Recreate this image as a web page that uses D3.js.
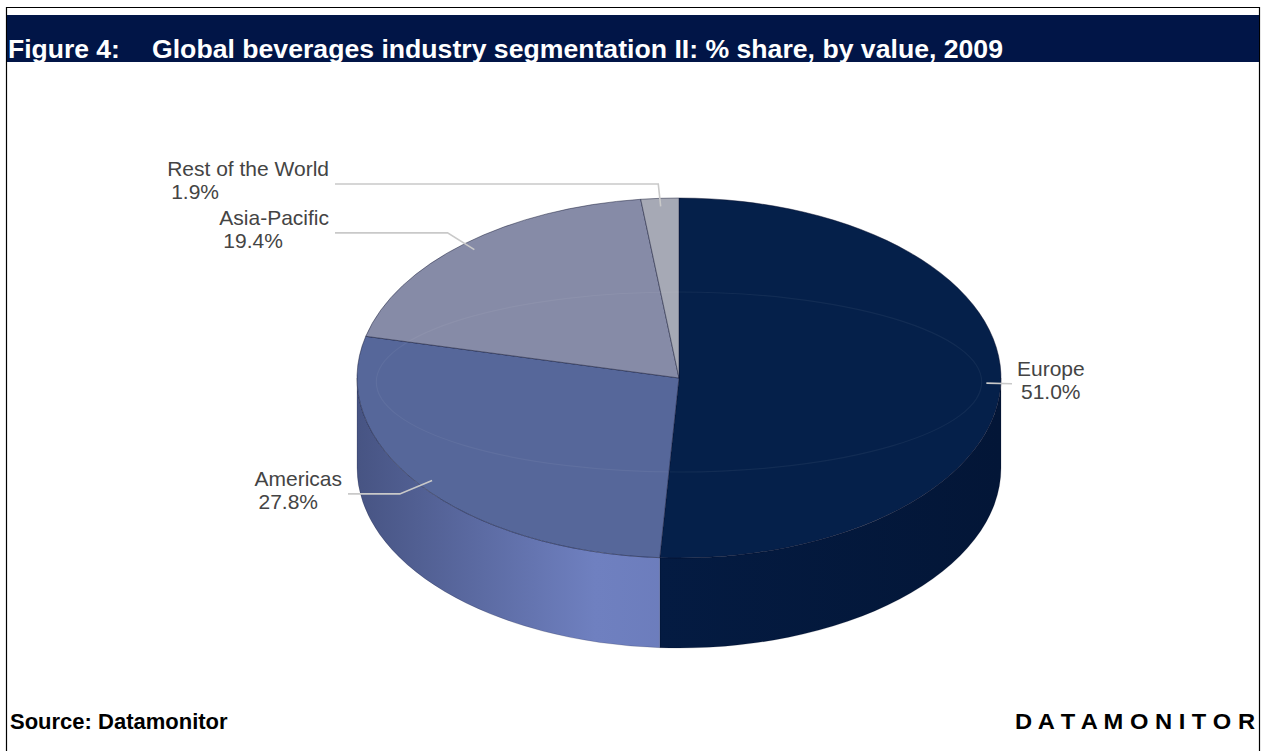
<!DOCTYPE html>
<html>
<head>
<meta charset="utf-8">
<script src="https://cdn.jsdelivr.net/npm/d3@7/dist/d3.min.js"></script>
<style>
  html, body { margin: 0; padding: 0; background: #fff; }
  svg { display: block; }
  text { font-family: "Liberation Sans", Arial, sans-serif; }
</style>
</head>
<body>
<svg id="chart" width="1264" height="751"></svg>
<script>
// Segment data (% share of global beverages value, 2009)
const categories = ["Europe", "Americas", "Asia-Pacific", "Rest of the World"];
const shares = [51.0, 27.8, 19.4, 1.9];
const shareLabels = ["51.0%", "27.8%", "19.4%", "1.9%"];

// Palette: top faces and wall gradient stops for each segment
const topColors = ["#05204a", "#56679a", "#868ba7", "#a6a9b5"];
const wallStops = [
  ["#04204a", "#041c44", "#031637"],
  ["#475483", "#6f80c0", "#5f6eab"],
  ["#6e7392", "#868ba7", "#767b98"],
  ["#8d909c", "#a6a9b5", "#9497a3"]
];

const titleLead = "Figure 4:";
const titleText = "Global beverages industry segmentation II: % share, by value, 2009";
const sourceText = "Source: Datamonitor";
const brandText = "D A T A M O N I T O R";

const svg = d3.select("#chart");
const W = 1264, H = 751;

// Frame and header band
svg.append("line").attr("x1", 6.5).attr("y1", 7.5).attr("x2", 1259.5).attr("y2", 7.5)
  .attr("stroke", "#000").attr("stroke-width", 1.2);
svg.append("line").attr("x1", 6.5).attr("y1", 7).attr("x2", 6.5).attr("y2", H)
  .attr("stroke", "#000").attr("stroke-width", 1.2);
svg.append("line").attr("x1", 1259.5).attr("y1", 7).attr("x2", 1259.5).attr("y2", H)
  .attr("stroke", "#000").attr("stroke-width", 1.2);
svg.append("rect").attr("x", 7).attr("y", 15).attr("width", 1252).attr("height", 47)
  .attr("fill", "#011547");

svg.append("text").attr("x", 8).attr("y", 58)
  .attr("font-size", 26.5).attr("font-weight", "bold").attr("fill", "#fff")
  .text(titleLead);
svg.append("text").attr("x", 152).attr("y", 58)
  .attr("font-size", 26.5).attr("font-weight", "bold").attr("fill", "#fff")
  .attr("textLength", 851).attr("lengthAdjust", "spacingAndGlyphs")
  .text(titleText);

svg.append("text").attr("x", 10).attr("y", 729)
  .attr("font-size", 22).attr("font-weight", "bold").attr("fill", "#000")
  .text(sourceText);
svg.append("text").attr("x", 1015).attr("y", 729)
  .attr("font-size", 22).attr("font-weight", "bold").attr("fill", "#000")
  .attr("textLength", 240).attr("lengthAdjust", "spacingAndGlyphs")
  .text(brandText);

// 3D pie geometry
const cx = 679, cy = 378, rx = 322, ry = 180, depth = 90;
const pt = (a, k = 1) => [cx + rx * k * Math.sin(a), cy - ry * k * Math.cos(a)];

const data = categories.map((c, i) => ({ name: c, share: shares[i], label: shareLabels[i], i }));
const arcs = d3.pie().sort(null).value(d => d.share).startAngle(0).endAngle(2 * Math.PI)(data);

const defs = svg.append("defs");
arcs.forEach(d => {
  const g = defs.append("linearGradient").attr("id", "wall" + d.data.i)
    .attr("gradientUnits", "userSpaceOnUse")
    .attr("x1", cx - rx).attr("y1", 0).attr("x2", cx + rx).attr("y2", 0);
  const stops = wallStops[d.data.i];
  // darker at the left edge, lit in front-left, falling off to the right
  g.append("stop").attr("offset", 0).attr("stop-color", stops[0]);
  g.append("stop").attr("offset", 0.37).attr("stop-color", stops[1]);
  g.append("stop").attr("offset", 1).attr("stop-color", stops[2]);
});

const gPie = svg.append("g");

// Outer walls: only the front half of the rim (angles between 90° and 270°) is visible
arcs.forEach(d => {
  const s = Math.max(d.startAngle, Math.PI / 2);
  const e = Math.min(d.endAngle, 3 * Math.PI / 2);
  if (s >= e) return;
  const p0 = pt(s), p1 = pt(e);
  const large = (e - s) > Math.PI ? 1 : 0;
  const path = `M${p0[0]},${p0[1]} A${rx},${ry} 0 ${large} 1 ${p1[0]},${p1[1]}` +
    ` L${p1[0]},${p1[1] + depth} A${rx},${ry} 0 ${large} 0 ${p0[0]},${p0[1] + depth} Z`;
  gPie.append("path").attr("d", path)
    .attr("fill", `url(#wall${d.data.i})`)
    .attr("stroke", "rgba(0,0,20,0.2)").attr("stroke-width", 0.8);
});

// Top faces
arcs.forEach(d => {
  const p0 = pt(d.startAngle), p1 = pt(d.endAngle);
  const large = (d.endAngle - d.startAngle) > Math.PI ? 1 : 0;
  const path = `M${cx},${cy} L${p0[0]},${p0[1]} A${rx},${ry} 0 ${large} 1 ${p1[0]},${p1[1]} Z`;
  gPie.append("path").attr("d", path)
    .attr("fill", topColors[d.data.i])
    .attr("stroke", "rgba(10,15,45,0.45)").attr("stroke-width", 1)
    .attr("stroke-linejoin", "round");
});

// Faint sheen ring on the top surface
gPie.append("ellipse").attr("cx", cx).attr("cy", cy + 4).attr("rx", rx * 0.94).attr("ry", ry * 0.5)
  .attr("fill", "none").attr("stroke", "rgba(255,255,255,0.055)").attr("stroke-width", 1.2);

// Leader lines and labels; labels in the lower half sit closer to the pie
const gLab = svg.append("g");
arcs.forEach(d => {
  const mid = (d.startAngle + d.endAngle) / 2;
  const side = Math.sin(mid) >= 0 ? 1 : -1;
  const lower = Math.cos(mid) < 0;
  const col = side > 0 ? cx + rx + 11 : cx - rx - (lower ? 9 : 22);
  const a = pt(mid, 0.955);
  let b = pt(mid, 1.08);
  b = side > 0 ? [Math.min(b[0], col), b[1]] : [Math.max(b[0], col), b[1]];
  const yLine = b[1];
  gLab.append("path")
    .attr("d", `M${a[0]},${a[1]} L${b[0]},${yLine} L${col},${yLine}`)
    .attr("fill", "none").attr("stroke", "#c9c9c9").attr("stroke-width", 1.6);

  const t = gLab.append("text").attr("font-size", 21).attr("fill", "#444");
  const l1 = t.append("tspan").attr("y", yLine - 8).text(d.data.name);
  const w1 = l1.node().getComputedTextLength();
  const x0 = side > 0 ? col + 5 : col - 6 - w1;
  l1.attr("x", x0);
  t.append("tspan").attr("x", x0 + 4).attr("y", yLine + 15).text(d.data.label);
});
</script>
</body>
</html>
